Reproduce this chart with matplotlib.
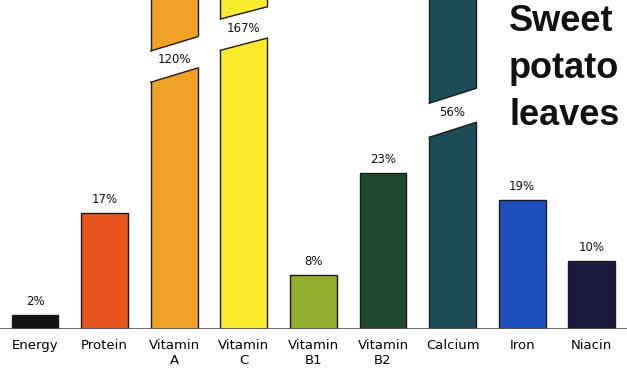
import numpy as np
import matplotlib
matplotlib.use('Agg')
import matplotlib.pyplot as plt
from matplotlib.patches import Polygon

categories = ['Energy', 'Protein', 'Vitamin\nA', 'Vitamin\nC', 'Vitamin\nB1',
              'Vitamin\nB2', 'Calcium', 'Iron', 'Niacin']
values = [2, 17, 120, 167, 8, 23, 56, 19, 10]
colors = ['#141414', '#e8541e', '#f0a226', '#fbe92c', '#93ad2c',
          '#1d4a2c', '#1c4c56', '#1f4fbe', '#1a1a3e']

# where the too-tall bars are cut: (lower-left, lower-right, gap)
breaks = {2: (36.3, 38.4, 4.6), 3: (41.0, 42.8, 4.6), 6: (28.2, 30.4, 5.0)}

fig = plt.figure(figsize=(6.27, 3.68), dpi=100)
ax = fig.add_axes([0, 0.106, 1, 0.894])
x = np.arange(len(categories))
w = 0.675
ax.bar(x, values, width=w, color=colors, edgecolor='#1a1a1a', linewidth=1.0, zorder=2)
ax.set_xlim(-0.503, 8.506)
ax.set_ylim(0, 48.4)
ax.axhline(0, color='#555555', lw=1.2, zorder=3)

for i, v in enumerate(values):
    if i in breaks:
        y0, y1, g = breaks[i]
        xl, xr = i - w / 2, i + w / 2
        s = (y1 - y0) / w
        gap = Polygon([(xl - 0.05, y0 - 0.05 * s), (xr + 0.05, y1 + 0.05 * s),
                       (xr + 0.05, y1 + g + 0.05 * s), (xl - 0.05, y0 + g - 0.05 * s)],
                      closed=True, facecolor='white', edgecolor='none', zorder=4)
        ax.add_patch(gap)
        ax.plot([xl, xr], [y0, y1], color='#1a1a1a', lw=1.0, zorder=5)
        ax.plot([xl, xr], [y0 + g, y1 + g], color='#1a1a1a', lw=1.0, zorder=5)
        ax.text(i, (y0 + y1 + g) / 2, f'{v}%', ha='center', va='center',
                fontsize=8.5, color='#111111', zorder=6)
    else:
        ax.annotate(f'{v}%', (i, v), xytext=(0, 5), textcoords='offset points',
                    ha='center', va='bottom', fontsize=8.5, color='#111111')

ax.set_xticks(x)
ax.set_xticklabels(categories, fontsize=9.5, linespacing=1.2)
ax.tick_params(axis='x', length=0, pad=7)
ax.set_yticks([])
for sp in ax.spines.values():
    sp.set_visible(False)

fig.text(0.812, 0.99, 'Sweet\npotato\nleaves', ha='left', va='top',
         fontsize=26, fontweight='bold', family='Liberation Sans', linespacing=1.45,
         color='#111111')

plt.savefig('out.png', dpi=100, facecolor='white')
